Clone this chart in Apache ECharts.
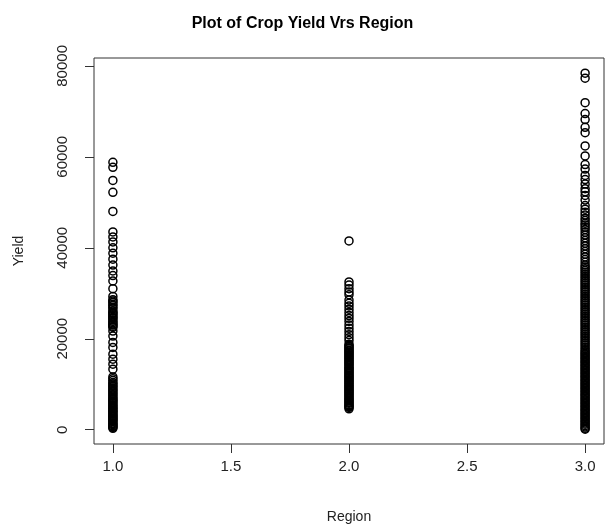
<!DOCTYPE html>
<html>
<head>
<meta charset="utf-8">
<script src="https://cdn.jsdelivr.net/npm/echarts@6/dist/echarts.min.js"></script>
<style>
  html, body { margin: 0; padding: 0; background: #fff; }
  #chart { width: 605px; height: 529px; }
</style>
</head>
<body>
<div id="chart"></div>
<script>
// regions on the x axis
var regions = [1, 2, 3];

// yields, one list per region (dense runs read as closely stacked)
var yield1 = [58800, 57700, 54800, 52200, 48000, 43500, 42400, 41300, 40000, 38800,
  37500, 36200, 34900, 33900, 32700, 31000, 29300, 28600, 28300, 28000, 27600, 27300,
  26900, 26600, 26100, 25800, 25600, 25300, 25000, 24700, 24500, 24100, 23800, 23500,
  23200, 23000, 22700, 22500, 21700, 20600, 19200, 18100, 16600, 15500, 14400, 13300,
  11600, 11200, 10800, 10400, 10100, 9800, 9500, 9200, 8900, 8600, 8300, 8000, 7700,
  7400, 7100, 6800, 6600, 6300, 6100, 5800, 5500, 5300, 5000, 4800, 4600, 4300, 4100,
  3900, 3700, 3400, 3200, 3000, 2800, 2600, 2400, 2200, 2000, 1800, 1500, 1300, 1100,
  900, 700, 500, 300];

var yield2 = [41500, 32500, 31800, 31000, 30300, 29700, 28500, 27800, 27200, 26500,
  25800, 25100, 24500, 23800, 23000, 22300, 21600, 20900, 20200, 19600, 18800, 18500,
  18300, 18000, 17800, 17500, 17300, 17000, 16800, 16500, 16300, 16000, 15800, 15500,
  15300, 15000, 14800, 14500, 14300, 14000, 13700, 13500, 13300, 13000, 12800, 12500,
  12300, 12000, 11800, 11500, 11300, 11000, 10800, 10500, 10300, 10000, 9800, 9500,
  9300, 9000, 8800, 8500, 8300, 8000, 7800, 7500, 7300, 7000, 6800, 6500, 6300, 6000,
  5800, 5500, 5300, 5100, 4900, 4600];

var yield3 = [78400, 77300, 71900, 69500, 68200, 66500, 65300, 62400, 60200, 58300,
  57300, 55900, 55000, 54000, 53000, 52300, 51500, 50500, 49300, 48500, 47800, 47200,
  46500, 46000, 45400, 45000, 44500, 44000, 43400, 42800, 42200, 41600, 41000, 40400,
  39800, 39200, 38600, 38000, 37400, 36800, 36200, 35800, 35400, 35000, 34600, 34200,
  33800, 33400, 33000, 32600, 32200, 31800, 31400, 31000, 30600, 30200, 29800, 29400,
  29000, 28600, 28200, 27800, 27400, 27000, 26600, 26200, 25800, 25400, 25000, 24600,
  24200, 23800, 23400, 23000, 22600, 22200, 21800, 21400, 21000, 20600, 20200, 19800,
  19400, 19000, 18600, 18200, 17800, 17400, 17100, 16800, 16500, 16200, 15900, 15600,
  15300, 15000, 14700, 14400, 14100, 13800, 13500, 13200, 12900, 12600, 12300, 12000,
  11700, 11400, 11100, 10800, 10500, 10200, 9900, 9600, 9300, 9000, 8700, 8400, 8100,
  7800, 7500, 7200, 6900, 6600, 6300, 6000, 5700, 5400, 5100, 4800, 4500, 4200, 3900,
  3600, 3300, 3000, 2700, 2400, 2100, 1800, 1500, 1200, 900, 600, 300, 100];

var xTicks = [1.0, 1.5, 2.0, 2.5, 3.0];
var yTicks = [0, 20000, 40000, 60000, 80000];

var yieldLists = [yield1, yield2, yield3];

var buildPoints = function(){
	var pts = [];
	for (var i = 0; i < regions.length; i++){
		var list = yieldLists[i];
		for (var j = 0; j < list.length; j++){
			pts.push([regions[i], list[j]]);
		}
	}
	return pts;
}

var FONT = "Liberation Sans, Arial, sans-serif";
var TEXT = "#222";

var chart = echarts.init(document.getElementById("chart"));
chart.setOption({
	animation: false,
	title: {
		text: "Plot of Crop Yield Vrs Region",
		left: "center",
		top: 11,
		textStyle: {fontFamily: FONT, fontSize: 16, fontWeight: "bold", color: "#000"}
	},
	grid: {
		left: 94, right: 1, top: 58, bottom: 84,
		show: true, borderColor: "#333", borderWidth: 1,
		backgroundColor: "transparent"
	},
	xAxis: {
		type: "value",
		min: 0.92, max: 3.08,
		name: "Region",
		nameLocation: "middle",
		nameGap: 66,
		nameTextStyle: {fontFamily: FONT, fontSize: 14, color: TEXT},
		splitLine: {show: false},
		axisLine: {show: false, onZero: false},
		axisTick: {show: true, length: 9, customValues: xTicks, lineStyle: {color: "#333"}},
		axisLabel: {
			customValues: xTicks, margin: 15,
			fontFamily: FONT, fontSize: 15, color: TEXT,
			formatter: function(v){ return v.toFixed(1); }
		}
	},
	yAxis: {
		type: "value",
		min: -3140, max: 81730,
		name: "Yield",
		nameLocation: "middle",
		nameGap: 68,
		nameTextStyle: {fontFamily: FONT, fontSize: 14, color: TEXT},
		splitLine: {show: false},
		axisLine: {show: false, onZero: false},
		axisTick: {show: true, length: 9, customValues: yTicks, lineStyle: {color: "#333"}},
		axisLabel: {
			customValues: yTicks, margin: 24, rotate: 90,
			fontFamily: FONT, fontSize: 15, color: TEXT,
			formatter: function(v){ return String(v); }
		}
	},
	series: [{
		type: "scatter",
		data: buildPoints(),
		symbol: "circle",
		symbolSize: 8,
		itemStyle: {color: "rgba(0,0,0,0)", borderColor: "#000", borderWidth: 1.5, opacity: 1},
		emphasis: {disabled: true}
	}]
});
</script>
</body>
</html>
